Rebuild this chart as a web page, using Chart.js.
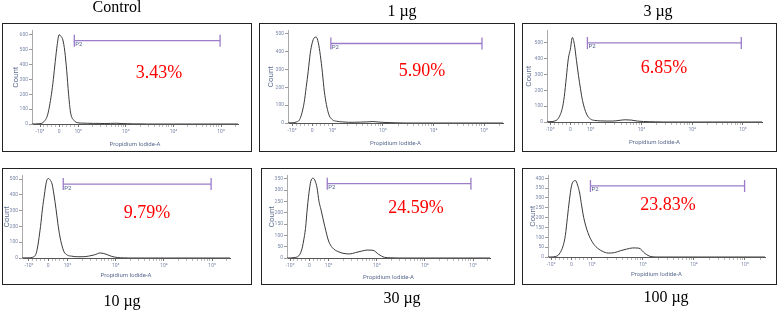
<!DOCTYPE html>
<html>
<head>
<meta charset="utf-8">
<script src="https://cdn.jsdelivr.net/npm/chart.js@4.4.0/dist/chart.umd.min.js"></script>
<style>
  body { margin:0; width:778px; height:310px; background:#fff; position:relative; overflow:hidden; font-family:"Liberation Serif", "Times New Roman", serif; }
  .box { position:absolute; box-sizing:border-box; border:1.5px solid #222; }
  canvas { position:absolute; }
  .title { position:absolute; font-size:16px; line-height:16px; color:#000; transform:translateX(-50%); white-space:nowrap; }
  .pct { position:absolute; font-size:18px; line-height:18px; color:#ff0000; transform:translate(-50%,-50%); white-space:nowrap; }
</style>
</head>
<body>
<script>
// histogram bins, in display units of the biexponential axis (-10^2 = -1, 0 = 0, 10^2 = 1, one decade = 2.5)
const binPos = [-1.5, -1.0, -0.8, -0.6, -0.4, -0.3, -0.2, -0.1, 0, 0.1, 0.2, 0.3, 0.4, 0.5, 0.6, 0.8, 1.0, 1.2, 1.5, 1.8, 2.1, 2.4, 2.7, 3.0, 3.3, 3.6, 3.9, 4.2, 4.6, 5.0, 6.0, 7.0, 8.0, 9.5];

const countsControl = [0, 2, 15, 62, 200, 300, 420, 530, 600, 590, 565, 490, 360, 200, 80, 22, 8, 6, 5, 4, 4, 3, 4, 5, 3, 2, 1, 1, 0, 0, 0, 0, 0, 0];
const counts1ug     = [0, 1, 5, 25, 115, 200, 290, 390, 450, 478, 482, 450, 380, 285, 175, 55, 18, 10, 6, 4, 4, 5, 6, 8, 5, 3, 2, 1, 0, 0, 0, 0, 0, 0];
const counts3ug     = [0, 2, 5, 22, 85, 160, 280, 400, 460, 535, 490, 390, 295, 210, 135, 50, 18, 10, 7, 6, 6, 10, 14, 12, 6, 3, 2, 1, 0, 0, 0, 0, 0, 0];
const counts10ug    = [0, 1, 5, 40, 200, 310, 400, 480, 505, 495, 470, 400, 315, 220, 140, 45, 18, 12, 8, 8, 12, 20, 32, 24, 10, 3, 1, 0, 0, 0, 0, 0, 0, 0];
const counts30ug    = [0, 0, 2, 6, 35, 75, 130, 225, 300, 345, 352, 340, 310, 250, 215, 140, 75, 45, 28, 20, 18, 24, 30, 35, 34, 16, 3, 1, 0, 0, 0, 0, 0, 0];
const counts100ug   = [0, 0, 2, 15, 60, 110, 200, 290, 360, 385, 388, 365, 325, 260, 200, 125, 80, 52, 30, 20, 22, 32, 40, 46, 45, 18, 2, 0, 0, 0, 0, 0, 0, 0];

const panelTitles = ['Control', '1 µg', '3 µg', '10 µg', '30 µg', '100 µg'];
const percentLabels = ['3.43%', '5.90%', '6.85%', '9.79%', '24.59%', '23.83%'];

// P2 gate
const gateStart = [0.8, 0.92, 0.84, 0.78, 0.93, 0.93];
const gateEnd   = [8.45, 8.4, 8.42, 8.45, 8.39, 8.48];
const gateLevel = [560, 446, 500, 469, 328, 361];

const xTickPos = [-1, 0, 1, 3.5, 6, 8.5];
const xTickLabels = ['-10²', '0', '10²', '10³', '10⁴', '10⁵'];

const yTicksControl = [0, 100, 200, 300, 400, 500, 600];
const yTicks1ug     = [0, 100, 200, 300, 400, 500];
const yTicks3ug     = [0, 100, 200, 300, 400, 500];
const yTicks10ug    = [0, 100, 200, 300, 400, 500];
const yTicks30ug    = [0, 50, 100, 150, 200, 250, 300, 350];
const yTicks100ug   = [0, 50, 100, 150, 200, 250, 300, 350, 400];
const yMax = [630, 520, 580, 525, 365, 415];

const allCounts = [countsControl, counts1ug, counts3ug, counts10ug, counts30ug, counts100ug];
const allYTicks = [yTicksControl, yTicks1ug, yTicks3ug, yTicks10ug, yTicks30ug, yTicks100ug];

// page layout: box [l,t,r,b], plot area [l,t,r,b], x range, title / percent placement
const panels = [
  {box: [2, 23, 252, 152],   area: [32, 28, 238, 124],   x: [-1.42, 9.39], title: [117, 12.3], pct: [159, 72],  cPad: 9, xPad: 3.5},
  {box: [259, 23, 515, 152], area: [288, 26, 503, 123],  x: [-1.2, 9.44],  title: [402, 16.5], pct: [422, 70],  cPad: 7, xPad: 5},
  {box: [522, 23, 777, 152], area: [547, 26, 762, 122],  x: [-1.15, 9.44], title: [658, 16.5], pct: [664, 67],  cPad: 2, xPad: 6},
  {box: [2, 168, 252, 285],  area: [22, 173, 230, 258],  x: [-1.36, 9.43], title: [122, 306],  pct: [147, 212], cPad: 0, xPad: 5.5},
  {box: [261, 168, 515, 285],area: [287, 173, 490, 258], x: [-1.16, 9.38], title: [402, 303],  pct: [416, 207], cPad: 6, xPad: 4},
  {box: [522, 168, 777, 285],area: [548, 171, 765, 257], x: [-1.15, 9.48], title: [666, 302],  pct: [668, 204], cPad: 6, xPad: 6.5}
];

// minor ticks of the cytometer axis
const xMinor = [];
for (let v = -0.8; v < 0.9; v += 0.2) xMinor.push(Math.round(v * 10) / 10);
[1, 3.5, 6].forEach(base => { for (let k = 2; k <= 9; k++) xMinor.push(base + 2.5 * Math.log10(k)); });
xMinor.push(8.5 + 2.5 * Math.log10(2));
const xAllTicks = xTickPos.concat(xMinor).filter(v => v !== 0 || true).sort((a, b) => a - b)
  .filter((v, i, a) => i === 0 || v !== a[i - 1]);

Chart.defaults.font.family = 'Roboto';
const axisText = '#5b6b8f';
const gateColor = '#9a7cc8';

const gateLabel = {
  id: 'gateLabel',
  afterDatasetsDraw(chart) {
    const p = chart.getDatasetMeta(1).data[0];
    const ctx = chart.ctx;
    ctx.save();
    ctx.font = '6px Roboto';
    ctx.fillStyle = '#4d5a8c';
    ctx.textBaseline = 'top';
    ctx.fillText('P2', p.x + 1, p.y + 1);
    ctx.restore();
  }
};

panels.forEach((p, i) => {
  const [bl, bt, br, bb] = p.box;
  const [L, T, R, B] = p.area;

  const cv = document.createElement('canvas');
  cv.width = br - bl; cv.height = bb - bt;
  cv.style.left = bl + 'px'; cv.style.top = bt + 'px';
  cv.style.width = (br - bl) + 'px'; cv.style.height = (bb - bt) + 'px';
  document.body.appendChild(cv);

  const box = document.createElement('div');
  box.className = 'box';
  box.style.left = bl + 'px'; box.style.top = bt + 'px';
  box.style.width = (br - bl) + 'px'; box.style.height = (bb - bt) + 'px';
  document.body.appendChild(box);

  const t = document.createElement('div');
  t.className = 'title';
  t.textContent = panelTitles[i];
  t.style.left = p.title[0] + 'px';
  t.style.top = (p.title[1] - 13.4) + 'px';
  document.body.appendChild(t);

  const pc = document.createElement('div');
  pc.className = 'pct';
  pc.textContent = percentLabels[i];
  pc.style.left = p.pct[0] + 'px';
  pc.style.top = p.pct[1] + 'px';
  document.body.appendChild(pc);

  new Chart(cv, {
    type: 'line',
    data: {
      datasets: [{
        data: binPos.map((x, k) => ({x: x, y: allCounts[i][k]})),
        borderColor: '#3a3a3a',
        borderWidth: 1,
        pointRadius: 0,
        cubicInterpolationMode: 'monotone',
        fill: false
      }, {
        data: [{x: gateStart[i], y: gateLevel[i]}, {x: gateEnd[i], y: gateLevel[i]}],
        borderColor: gateColor,
        borderWidth: 1.3,
        pointStyle: 'line',
        rotation: 90,
        pointRadius: 6,
        pointBorderColor: gateColor,
        pointBorderWidth: 1.3
      }]
    },
    options: {
      responsive: false,
      animation: false,
      devicePixelRatio: 1,
      layout: {padding: {left: 0, top: T - bt, right: br - R, bottom: 0}},
      plugins: {legend: {display: false}, tooltip: {enabled: false}},
      scales: {
        x: {
          type: 'linear',
          min: p.x[0], max: p.x[1],
          afterFit: s => { s.height = bb - B; },
          afterBuildTicks: s => { s.ticks = xAllTicks.map(v => ({value: v})); },
          ticks: {
            autoSkip: false, maxRotation: 0, minRotation: 0, padding: 2,
            font: {size: 5}, color: '#7b88a8',
            callback: v => { const k = xTickPos.indexOf(v); return k >= 0 ? xTickLabels[k] : ''; }
          },
          grid: {
            drawOnChartArea: false, tickLength: 3,
            tickColor: c => (c.tick && xTickPos.indexOf(c.tick.value) >= 0) ? '#777' : '#bbb'
          },
          border: {color: '#555', width: 1},
          title: {display: true, text: 'Propidium Iodide-A', color: axisText, font: {size: 6}, padding: {top: 0, bottom: p.xPad}}
        },
        y: {
          min: 0, max: yMax[i],
          afterFit: s => { s.width = L - bl; },
          afterBuildTicks: s => { s.ticks = allYTicks[i].map(v => ({value: v})); },
          ticks: {font: {size: 5}, color: '#7b88a8', padding: 1},
          grid: {drawOnChartArea: false, tickLength: 3, tickColor: '#999'},
          border: {color: '#aaa', width: 1},
          title: {display: true, text: 'Count', color: axisText, font: {size: 8}, padding: {top: p.cPad, bottom: 0}}
        }
      }
    },
    plugins: [gateLabel]
  });
});
</script>
</body>
</html>
